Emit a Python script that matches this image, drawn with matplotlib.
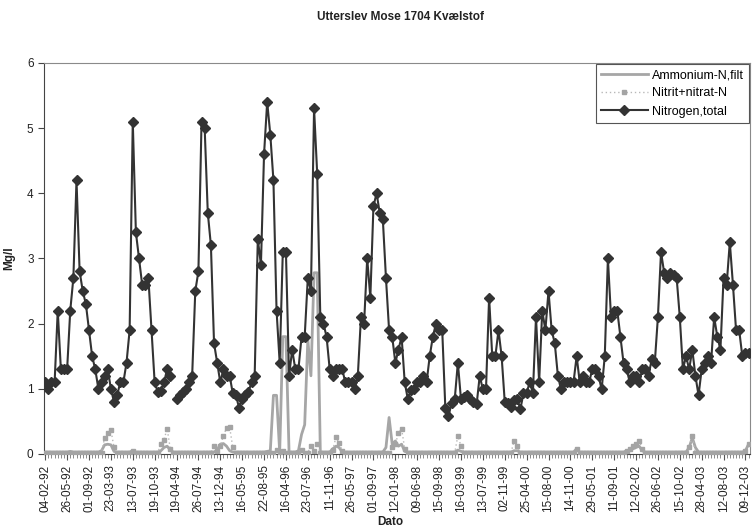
import numpy as np
import matplotlib.pyplot as plt
from matplotlib.ticker import FixedLocator

plt.rcParams['font.family'] = ['Liberation Sans', 'DejaVu Sans']

nan = float('nan')

# labels sit on every 7th sample
tick_labels = ['04-02-92', '26-05-92', '01-09-92', '23-03-93', '13-07-93', '19-10-93',
               '19-04-94', '26-07-94', '13-12-94', '16-05-95', '22-08-95', '16-04-96',
               '23-07-96', '11-11-96', '26-05-97', '01-09-97', '12-01-98', '09-06-98',
               '15-09-98', '16-03-99', '13-07-99', '02-11-99', '25-04-00', '15-08-00',
               '14-11-00', '29-05-01', '11-09-01', '12-02-02', '26-06-02', '15-10-02',
               '28-04-03', '12-08-03', '09-12-03']

nitrogen_total = [
    1.1, 1.0, 1.1, 1.1, 2.2, 1.3, 1.3, 1.3, 2.2, 2.7, 4.2, 2.8, 2.5, 2.3,
    1.9, 1.5, 1.3, 1.0, 1.1, 1.2, 1.3, 1.0, 0.8, 0.9, 1.1, 1.1, 1.4, 1.9,
    5.1, 3.4, 3.0, 2.6, 2.6, 2.7, 1.9, 1.1, 0.95, 0.97, 1.1, 1.3, 1.2, nan,
    0.85, 0.9, 0.95, 1.0, 1.1, 1.2, 2.5, 2.8, 5.1, 5.0, 3.7, 3.2, 1.7, 1.4,
    1.1, 1.3, 1.2, 1.2, 0.93, 0.9, 0.71, 0.85, 0.9, 0.95, 1.1, 1.2, 3.3, 2.9,
    4.6, 5.4, 4.9, 4.2, 2.2, 1.4, 3.1, 3.1, 1.2, 1.6, 1.3, 1.3, 1.8, 1.8,
    2.7, 2.5, 5.3, 4.3, 2.1, 2.0, 1.8, 1.3, 1.2, 1.3, 1.3, 1.3, 1.1, 1.1,
    1.1, 1.0, 1.2, 2.1, 2.0, 3.0, 2.4, 3.8, 4.0, 3.7, 3.6, 2.7, 1.9, 1.8,
    1.4, 1.6, 1.8, 1.1, 0.84, 0.98, 1.0, 1.1, 1.1, 1.2, 1.1, 1.5, 1.8, 2.0,
    1.9, 1.9, 0.7, 0.58, 0.78, 0.84, 1.4, 0.84, 0.88, 0.9, 0.85, 0.8, 0.76, 1.2,
    0.99, 0.99, 2.4, 1.5, 1.5, 1.9, 1.5, 0.8, 0.78, 0.72, 0.83, 0.85, 0.69, 0.93,
    0.94, 1.1, 0.93, 2.1, 1.1, 2.2, 1.9, 2.5, 1.9, 1.7, 1.2, 0.99, 1.1, 1.1,
    1.1, 1.1, 1.5, 1.1, 1.2, 1.1, 1.1, 1.3, 1.3, 1.2, 0.99, 1.5, 3.0, 2.1,
    2.2, 2.2, 1.8, 1.4, 1.3, 1.1, 1.2, 1.2, 1.1, 1.3, 1.3, 1.2, 1.45, 1.4,
    2.1, 3.1, 2.78, 2.7, 2.78, 2.75, 2.7, 2.1, 1.3, 1.5, 1.3, 1.6, 1.2, 0.9,
    1.3, 1.4, 1.5, 1.4, 2.1, 1.8, 1.6, 2.7, 2.6, 3.25, 2.6, 1.9, 1.9, 1.5,
    1.55, 1.55,
]

ammonium = [
    0.03, 0.03, 0.03, 0.03, 0.03, 0.03, 0.03, 0.03, 0.04, 0.03, 0.03, 0.03, 0.03, 0.03,
    0.03, 0.03, 0.03, 0.03, 0.05, 0.14, 0.15, 0.14, 0.04, 0.03, 0.03, 0.03, 0.03, 0.03,
    0.05, 0.03, 0.03, 0.03, 0.03, 0.03, 0.03, 0.03, 0.03, 0.05, 0.10, 0.12, 0.06, 0.03,
    0.03, 0.03, 0.03, 0.03, 0.03, 0.03, 0.03, 0.03, 0.03, 0.03, 0.03, 0.03, 0.03, 0.06,
    0.15, 0.16, 0.12, 0.05, 0.03, 0.03, 0.03, 0.03, 0.03, 0.03, 0.03, 0.03, 0.03, 0.03,
    0.03, 0.04, 0.05, 0.90, 0.90, 0.03, 1.80, 1.80, 0.03, 0.03, 0.03, 0.05, 0.30, 0.45,
    1.75, 1.20, 2.78, 2.78, 0.03, 0.03, 0.03, 0.03, 0.08, 0.12, 0.10, 0.03, 0.03, 0.03,
    0.03, 0.03, 0.03, 0.03, 0.03, 0.03, 0.03, 0.03, 0.03, 0.03, 0.03, 0.10, 0.56, 0.15,
    0.20, 0.12, 0.15, 0.04, 0.03, 0.03, 0.03, 0.03, 0.03, 0.03, 0.03, 0.03, 0.03, 0.03,
    0.03, 0.03, 0.03, 0.03, 0.03, 0.03, 0.06, 0.04, 0.03, 0.03, 0.03, 0.03, 0.03, 0.03,
    0.03, 0.03, 0.03, 0.03, 0.03, 0.03, 0.03, 0.03, 0.03, 0.03, 0.05, 0.05, 0.03, 0.03,
    0.03, 0.03, 0.03, 0.03, 0.03, 0.03, 0.03, 0.03, 0.03, 0.03, 0.03, 0.03, 0.03, 0.03,
    0.03, 0.03, 0.08, 0.03, 0.03, 0.03, 0.03, 0.03, 0.03, 0.03, 0.03, 0.03, 0.03, 0.03,
    0.03, 0.03, 0.03, 0.03, 0.05, 0.06, 0.08, 0.10, 0.12, 0.05, 0.03, 0.03, 0.03, 0.03,
    0.03, 0.03, 0.03, 0.03, 0.03, 0.03, 0.03, 0.03, 0.03, 0.03, 0.10, 0.25, 0.10, 0.03,
    0.03, 0.03, 0.03, 0.03, 0.03, 0.03, 0.03, 0.03, 0.03, 0.03, 0.03, 0.03, 0.03, 0.03,
    0.05, 0.15,
]

nitrit_nitrat = [
    0.02, 0.02, 0.02, 0.02, 0.02, 0.02, 0.02, 0.02, 0.02, 0.02, 0.02, 0.02, 0.02, 0.02,
    0.02, 0.02, 0.02, 0.02, 0.02, 0.25, 0.32, 0.37, 0.10, 0.02, 0.02, 0.02, 0.02, 0.02,
    0.05, 0.02, 0.02, 0.02, 0.02, 0.02, 0.02, 0.02, 0.02, 0.15, 0.22, 0.39, 0.08, 0.02,
    0.02, 0.02, 0.02, 0.02, 0.02, 0.02, 0.02, 0.02, 0.02, 0.02, 0.02, 0.02, 0.13, 0.05,
    0.12, 0.28, 0.40, 0.41, 0.10, 0.02, 0.02, 0.02, 0.02, 0.02, 0.02, 0.02, 0.02, 0.02,
    0.02, 0.02, 0.02, 0.02, 0.06, 0.02, 0.05, 0.02, 0.02, 0.02, 0.02, 0.02, 0.06, 0.02,
    0.02, 0.13, 0.05, 0.15, 0.02, 0.02, 0.02, 0.02, 0.06, 0.26, 0.17, 0.05, 0.02, 0.02,
    0.02, 0.02, 0.02, 0.02, 0.02, 0.02, 0.02, 0.02, 0.02, 0.02, 0.02, 0.02, 0.02, 0.10,
    0.15, 0.32, 0.39, 0.08, 0.02, 0.02, 0.02, 0.02, 0.02, 0.02, 0.02, 0.02, 0.02, 0.02,
    0.02, 0.02, 0.02, 0.02, 0.02, 0.02, 0.28, 0.12, 0.02, 0.02, 0.02, 0.02, 0.02, 0.02,
    0.02, 0.02, 0.02, 0.02, 0.02, 0.02, 0.02, 0.02, 0.02, 0.02, 0.20, 0.12, 0.02, 0.02,
    0.02, 0.02, 0.02, 0.02, 0.02, 0.02, 0.02, 0.02, 0.02, 0.02, 0.02, 0.02, 0.02, 0.02,
    0.02, 0.02, 0.07, 0.02, 0.02, 0.02, 0.02, 0.02, 0.02, 0.02, 0.02, 0.02, 0.02, 0.02,
    0.02, 0.02, 0.02, 0.02, 0.05, 0.08, 0.12, 0.15, 0.20, 0.08, 0.02, 0.02, 0.02, 0.02,
    0.02, 0.02, 0.02, 0.02, 0.02, 0.02, 0.02, 0.02, 0.02, 0.02, 0.10, 0.28, 0.02, 0.02,
    0.02, 0.02, 0.02, 0.02, 0.02, 0.02, 0.02, 0.02, 0.02, 0.02, 0.02, 0.02, 0.02, 0.02,
    0.05, 0.15,
]

x = np.arange(len(nitrogen_total))

fig = plt.figure(figsize=(7.52, 5.30), dpi=100)
ax = fig.add_axes([0.0585, 0.1434, 0.939, 0.738])

ax.plot(x, ammonium, color='#a6a6a6', lw=2.0, label='Ammonium-N,filt', zorder=2)
ax.plot(x, nitrit_nitrat, color='#b8b8b8', lw=1.0, ls=(0, (1, 2)), marker='s', ms=3.4,
        mfc='#a4a4a4', mec='#a4a4a4', label='Nitrit+nitrat-N', zorder=3)
ax.plot(x, nitrogen_total, color='#333333', lw=1.5, marker='D', ms=4.8,
        mfc='#333333', mec='#333333', label='Nitrogen,total', zorder=4)

ax.set_xlim(-0.4, 225.5)
ax.set_ylim(0, 6)
ax.set_yticks(range(7))
ax.tick_params(axis='y', labelsize=8.5, length=4, color='#444444', labelcolor='#222222')

ax.xaxis.set_major_locator(FixedLocator(range(0, 7 * len(tick_labels), 7)))
ax.set_xticklabels(tick_labels, rotation=90, fontsize=8.5, color='#222222')
ax.xaxis.set_minor_locator(FixedLocator(x))
ax.tick_params(axis='x', which='major', length=4, color='#555555')
ax.tick_params(axis='x', which='minor', length=3, color='#777777')

for side in ['left', 'bottom']:
    ax.spines[side].set_color('#444444')
for side in ['top', 'right']:
    ax.spines[side].set_color('#8a8a8a')

leg = ax.legend(loc='upper right', fontsize=9, handlelength=3.8, borderaxespad=0.1,
                fancybox=False, framealpha=1, edgecolor='#555555', labelspacing=0.5,
                handletextpad=0.3, borderpad=0.4)
leg.get_frame().set_linewidth(0.8)

fig.text(0.532, 0.967, 'Utterslev Mose 1704 Kvælstof', ha='center', va='center',
         fontsize=8.5, fontweight='bold', color='#222222')
fig.text(0.012, 0.513, 'Mg/l', rotation=90, ha='center', va='center',
         fontsize=8.5, fontweight='bold', color='#222222')
fig.text(0.519, 0.015, 'Dato', ha='center', va='center',
         fontsize=8.5, fontweight='bold', color='#222222')

fig.savefig('out.png', dpi=100)
